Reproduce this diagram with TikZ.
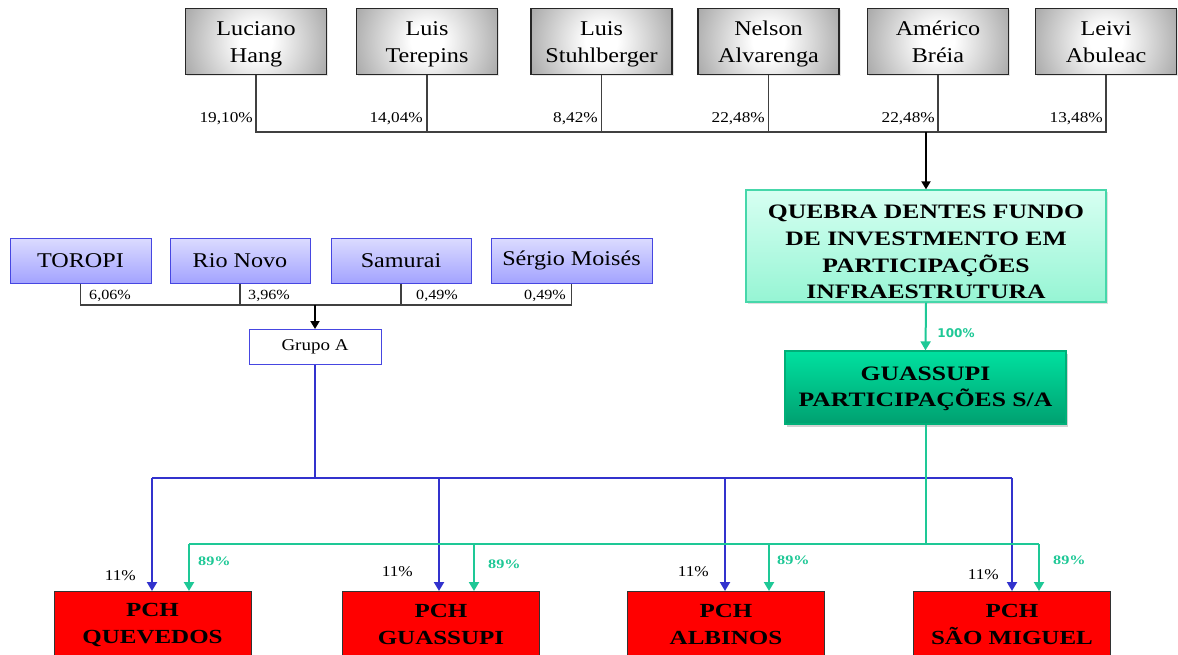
\documentclass[tikz,border=0pt]{standalone}
\usepackage{fontspec}
\setmainfont[FakeStretch=1.15]{Liberation Serif}
\newfontfamily\wbf[FakeStretch=1.25]{Liberation Serif}
\newfontfamily\sansb{DejaVu Sans}
\usetikzlibrary{arrows.meta,shadows}
\definecolor{myblue}{RGB}{50,50,205}
\definecolor{mygreen}{RGB}{30,200,150}
\definecolor{lavb}{RGB}{70,70,225}
\definecolor{quebraborder}{RGB}{70,215,170}
\definecolor{gpborder}{RGB}{0,175,120}
\definecolor{qtop}{RGB}{215,255,242}
\definecolor{qbot}{RGB}{150,245,212}
\definecolor{gtop}{RGB}{0,225,160}
\definecolor{gbot}{RGB}{0,160,112}
\pgfdeclareradialshading{softgray}{\pgfpoint{0bp}{0bp}}{color(0bp)=(white); color(5bp)=(white); color(25bp)=(black!35); color(44bp)=(black!58); color(50bp)=(black!62)}
\newcommand\mystrut[1]{\rule{0pt}{#1}}
\newcommand\mydepth{\rule[-6pt]{0pt}{6pt}}
\tikzset{
  person/.style={draw=black!85, line width=1.3pt, fill=white,
    path picture={\shade[shading=softgray] (path picture bounding box.center) circle (80pt);},
    drop shadow={shadow xshift=1.5pt, shadow yshift=-1.5pt, opacity=0.2},
    minimum width=141pt, minimum height=66pt, inner sep=0pt, align=center,
    font=\fontsize{21}{27}\selectfont},
  grpbox/.style={draw=lavb, line width=1pt, top color=blue!14, bottom color=blue!36,
    minimum height=45pt, inner sep=0pt, align=center, font=\fontsize{21}{25}\selectfont},
  pct/.style={font=\fontsize{15}{17}\selectfont, inner sep=0pt},
  pcts/.style={font=\fontsize{14}{16}\selectfont, inner sep=0pt},
  redbox/.style={draw=black!80, line width=1pt, fill=red, minimum width=197pt, minimum height=66pt,
    inner sep=0pt, align=center, font=\wbf\bfseries\fontsize{20}{27}\selectfont},
  gpct/.style={text=mygreen, font=\wbf\bfseries\fontsize{13}{15}\selectfont, inner sep=0pt},
  bpct/.style={font=\fontsize{15}{17}\selectfont, inner sep=0pt},
  blk/.style={draw=black!75, line width=1.2pt},
  blkarr/.style={draw=black, line width=1.8pt, -{Triangle[width=9pt,length=8pt]}},
  bluel/.style={draw=myblue, line width=2pt},
  bluearr/.style={draw=myblue, line width=2pt, -{Triangle[width=10pt,length=9pt]}},
  greenl/.style={draw=mygreen, line width=2pt},
  greenarr/.style={draw=mygreen, line width=2pt, -{Triangle[width=10pt,length=9pt]}},
}
\begin{document}
\begin{tikzpicture}[x=1pt,y=-1pt]
\useasboundingbox (0,0) rectangle (1178,654);
\fill[white] (0,0) rectangle (1178,654);
% top persons
\node[person] (lh) at (256,41.5) {\mystrut{20.5pt}Luciano\\Hang\mydepth};
\node[person] (lt) at (427,41.5) {\mystrut{20.5pt}Luis\\Terepins\mydepth};
\node[person] (ls) at (601.5,41.5) {\mystrut{20.5pt}Luis\\Stuhlberger\mydepth};
\node[person] (na) at (768.5,41.5) {\mystrut{20.5pt}Nelson\\Alvarenga\mydepth};
\node[person] (ab) at (938,41.5) {\mystrut{20.5pt}Américo\\Bréia\mydepth};
\node[person] (la) at (1106,41.5) {\mystrut{20.5pt}Leivi\\Abuleac\mydepth};
\coordinate (h1) at (256,132);
\coordinate (h2) at (427,132);
\coordinate (h3) at (601.5,132);
\coordinate (h4) at (768.5,132);
\coordinate (h5) at (938,132);
\coordinate (h6) at (1106,132);
\coordinate (jtop) at (926,132);
\draw[blk] (lh.south) -- (h1) -- (h6) -- (la.south);
\draw[blk] (lt.south) -- (h2);
\draw[blk] (ls.south) -- (h3);
\draw[blk] (na.south) -- (h4);
\draw[blk] (ab.south) -- (h5);
\node[pct, anchor=east] (p1) at (253,119) {19,10\%};
\node[pct, anchor=east] (p2) at (423,119) {14,04\%};
\node[pct, anchor=east] (p3) at (598,119) {8,42\%};
\node[pct, anchor=east] (p4) at (765,119) {22,48\%};
\node[pct, anchor=east] (p5) at (935,119) {22,48\%};
\node[pct, anchor=east] (p6) at (1103,119) {13,48\%};
% fund
\node[draw=quebraborder, line width=1.3pt, top color=qtop, bottom color=qbot,
  drop shadow={shadow xshift=2pt, shadow yshift=-2pt, opacity=0.25},
  minimum width=360pt, minimum height=112pt, inner sep=0pt, align=center,
  font=\wbf\bfseries\fontsize{20.5}{26.7}\selectfont] (qd) at (926,246)
  {\mystrut{26pt}QUEBRA DENTES FUNDO\\DE INVESTMENTO EM\\PARTICIPAÇÕES\\INFRAESTRUTURA};
\draw[blkarr] (jtop) -- (qd.north);
\node[draw=gpborder, line width=1.3pt, top color=gtop, bottom color=gbot,
  drop shadow={shadow xshift=2pt, shadow yshift=-3pt, opacity=0.35},
  minimum width=281pt, minimum height=73pt, inner sep=0pt, align=center,
  font=\wbf\bfseries\fontsize{20.5}{26}\selectfont] (gp) at (925.5,387.5)
  {\mystrut{16pt}GUASSUPI\\PARTICIPAÇÕES S/A};
\draw[greenarr] (qd.south) -- (gp.north);
\node[text=mygreen, font=\sansb\bfseries\fontsize{12}{14}\selectfont, inner sep=0pt] (p100) at (956,333) {100\%};
% left group
\node[grpbox, minimum width=141pt] (to) at (80.5,260.5) {TOROPI};
\node[grpbox, minimum width=140pt] (rn) at (240,260.5) {Rio Novo};
\node[grpbox, minimum width=140pt] (sa) at (401,260.5) {Samurai};
\node[grpbox, minimum width=161pt] (sm) at (571.5,260.5) {Sérgio Moisés};
\coordinate (g1) at (80.5,305);
\coordinate (g2) at (240,305);
\coordinate (g3) at (401,305);
\coordinate (g4) at (571.5,305);
\coordinate (gj) at (315,305);
\draw[blk] (to.south) -- (g1) -- (g4) -- (sm.south);
\draw[blk] (rn.south) -- (g2);
\draw[blk] (sa.south) -- (g3);
\node[pcts, anchor=west] (q1) at (89,296) {6,06\%};
\node[pcts, anchor=west] (q2) at (248,296) {3,96\%};
\node[pcts, anchor=west] (q3) at (416,296) {0,49\%};
\node[pcts, anchor=east] (q4) at (566,296) {0,49\%};
\node[draw=lavb, line width=1pt, fill=white, minimum width=132pt, minimum height=35pt, inner sep=0pt,
  font=\fontsize{16.5}{18}\selectfont] (ga) at (315,347) {Grupo A};
\draw[blkarr] (gj) -- (ga.north);
% red boxes
\node[redbox, anchor=north] (pq) at (152.5,591) {PCH\\QUEVEDOS};
\node[redbox, anchor=north] (pg) at (441,591) {PCH\\GUASSUPI};
\node[redbox, anchor=north] (pa) at (726,591) {PCH\\ALBINOS};
\node[redbox, anchor=north] (ps) at (1012,591) {PCH\\SÃO MIGUEL};
% blue connectors
\coordinate (bj) at (315,478);
\coordinate (b1) at (152,478);
\coordinate (b2) at (439,478);
\coordinate (b3) at (725,478);
\coordinate (b4) at (1012,478);
\draw[bluel] (ga.south) -- (bj);
\draw[bluel] (b1) -- (b4);
\draw[bluearr] (b1) -- (b1 |- pq.north);
\draw[bluearr] (b2) -- (b2 |- pg.north);
\draw[bluearr] (b3) -- (b3 |- pa.north);
\draw[bluearr] (b4) -- (b4 |- ps.north);
% green connectors
\coordinate (gr0) at (925.5,544);
\coordinate (gr1) at (189,544);
\coordinate (gr2) at (474,544);
\coordinate (gr3) at (769,544);
\coordinate (gr4) at (1039,544);
\draw[greenl] (gp.south) -- (gr0);
\draw[greenl] (gr1) -- (gr4);
\draw[greenarr] (gr1) -- (gr1 |- pq.north);
\draw[greenarr] (gr2) -- (gr2 |- pg.north);
\draw[greenarr] (gr3) -- (gr3 |- pa.north);
\draw[greenarr] (gr4) -- (gr4 |- ps.north);
% labels
\node[gpct, anchor=west] (e1) at (198,561) {89\%};
\node[gpct, anchor=west] (e2) at (488,564) {89\%};
\node[gpct, anchor=west] (e3) at (777,560) {89\%};
\node[gpct, anchor=west] (e4) at (1053,560) {89\%};
\node[bpct, anchor=east] (o1) at (136,576) {11\%};
\node[bpct, anchor=east] (o2) at (413,572) {11\%};
\node[bpct, anchor=east] (o3) at (709,572) {11\%};
\node[bpct, anchor=east] (o4) at (999,575) {11\%};
\end{tikzpicture}
\end{document}
